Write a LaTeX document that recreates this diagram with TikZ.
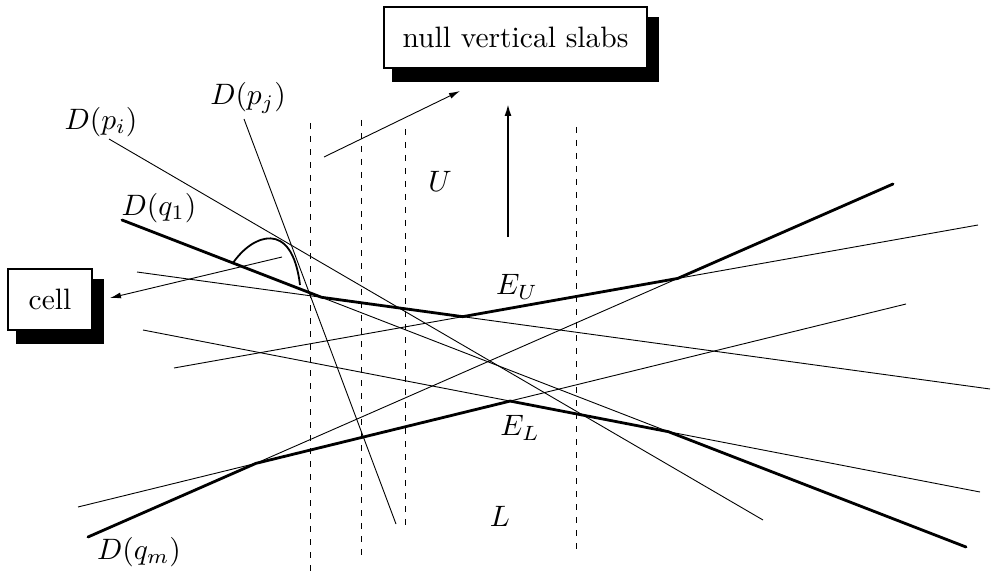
\documentclass[tikz,border=0pt]{standalone}
\usetikzlibrary{arrows.meta,backgrounds,calc}
\begin{document}
\begin{tikzpicture}[x=1pt,y=-1pt,
  thinline/.style={line width=0.9pt},
  thickline/.style={line width=2.8pt,line cap=round,line join=round},
  slab/.style={line width=0.9pt,dash pattern=on 6pt off 7pt},
  lbl/.style={scale=2.95,inner sep=0pt},
  boxed/.style={draw,line width=1.4pt,fill=white,scale=2.95,inner sep=0pt},
  shadowfill/.style={fill=black},
  ptr/.style={line width=0.9pt,-{Latex[length=11pt,width=6pt]}}]
\useasboundingbox (0,0) rectangle (993,572);
% line end points
\coordinate (A1) at (122,220); \coordinate (A2) at (966,547);
\coordinate (B1) at (88,537);  \coordinate (B2) at (893,184);
\coordinate (C1) at (137,272); \coordinate (C2) at (990,389);
\coordinate (D1) at (174,368); \coordinate (D2) at (978,225);
\coordinate (E1) at (78,507);  \coordinate (E2) at (906,304);
\coordinate (F1) at (143,330); \coordinate (F2) at (980,492);
\coordinate (P1) at (109,139); \coordinate (P2) at (763,520);
\coordinate (Q1) at (244,119); \coordinate (Q2) at (396,524);
% envelope vertices
\coordinate (ac) at (intersection of A1--A2 and C1--C2);
\coordinate (cd) at (intersection of C1--C2 and D1--D2);
\coordinate (db) at (intersection of D1--D2 and B1--B2);
\coordinate (be) at (intersection of B1--B2 and E1--E2);
\coordinate (ef) at (intersection of E1--E2 and F1--F2);
\coordinate (fa) at (intersection of F1--F2 and A1--A2);
% vertical slabs
\draw[slab] (310,123) -- (310,572);
\draw[slab] (361,120) -- (361,556);
\draw[slab] (405,129) -- (405,528);
\draw[slab] (576,127) -- (576,552);
% thin lines
\foreach \l in {A,B,C,D,E,F,P,Q}
  \draw[thinline] (\l1) -- (\l2);
% envelopes
\draw[thickline] (A1) -- (ac) -- (cd) -- (db) -- (B2);
\draw[thickline] (B1) -- (be) -- (ef) -- (fa) -- (A2);
% cell curve
\draw[line width=1.8pt] (233,263) .. controls (252,235) and (292,218) .. (300,285);
% labels
\node[lbl] (lpi) at (101,122) {$D(p_i)$};
\node[lbl] (lpj) at (248,98) {$D(p_j)$};
\node[lbl] (lq1) at (159,208) {$D(q_1)$};
\node[lbl] (lqm) at (139,552) {$D(q_m)$};
\node[lbl] (lU) at (440,181) {$U$};
\node[lbl] (lEU) at (517,287) {$E_U$};
\node[lbl] (lEL) at (520,428) {$E_L$};
\node[lbl] (lL) at (500,516) {$L$};
% boxes
\node[boxed,minimum width=28.5pt,minimum height=20.7pt] (cell) at (50,299.5) {cell};
\node[boxed,minimum width=89.2pt,minimum height=20.7pt] (slabs) at (515.5,37.5) {null vertical slabs};
\begin{scope}[on background layer]
  \fill[shadowfill] ([xshift=10pt,yshift=-12pt]cell.south west) rectangle ([xshift=10pt,yshift=-12pt]cell.north east);
  \fill[shadowfill] ([xshift=10pt,yshift=-12pt]slabs.south west) rectangle ([xshift=10pt,yshift=-12pt]slabs.north east);
\end{scope}
% pointers
\coordinate (cs) at (282,257); \coordinate (ct) at (110,298);
\draw[ptr] (cs) -- (ct);
\coordinate (ss) at (324,157); \coordinate (st) at (460,91);
\draw[ptr] (ss) -- (st);
\coordinate (vs) at (508,237); \coordinate (vt) at (508,104);
\draw[line width=1.8pt,-{Latex[length=12pt,width=7pt]}] (vs) -- (vt);
\end{tikzpicture}
\end{document}
